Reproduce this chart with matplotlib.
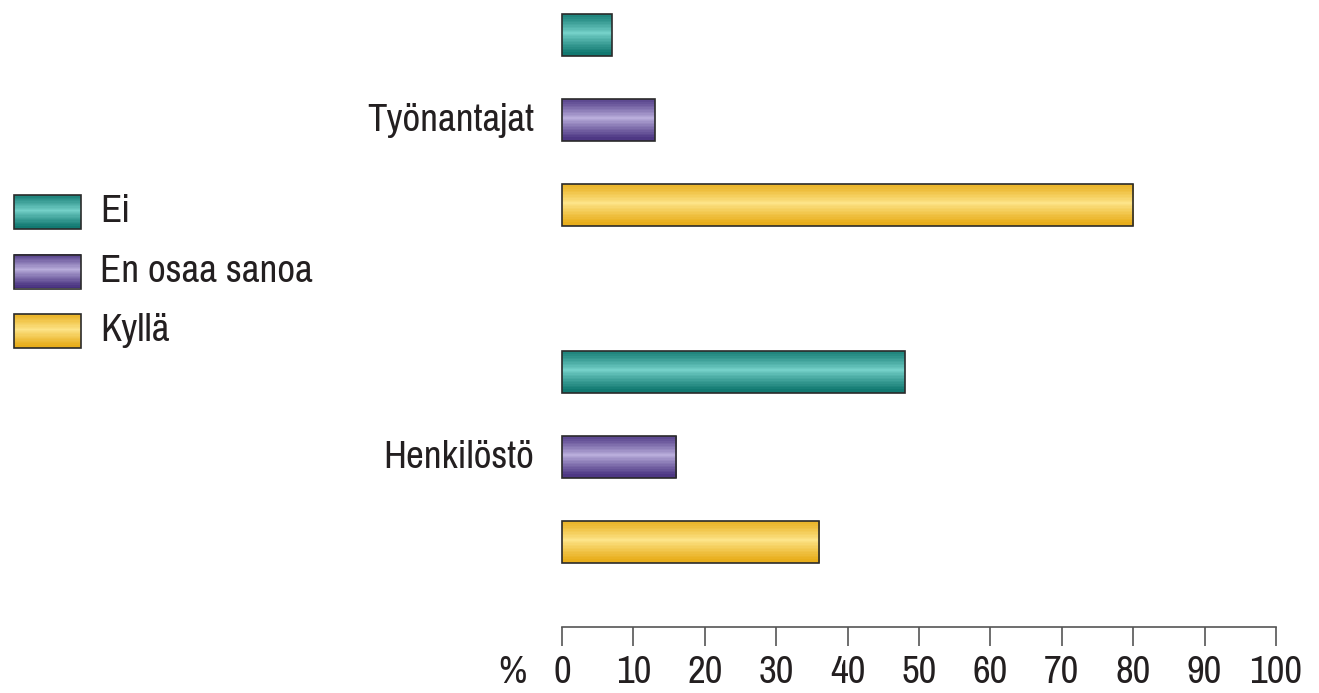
import matplotlib
matplotlib.use("Agg")
import matplotlib.pyplot as plt
import numpy as np
from matplotlib.colors import LinearSegmentedColormap
from matplotlib.patches import Rectangle
from matplotlib import font_manager as fm

GROUPS = ["Työnantajat", "Henkilöstö"]
SERIES = ["Ei", "En osaa sanoa", "Kyllä"]
VALUES = {
    "Työnantajat": [7, 13, 80],
    "Henkilöstö": [48, 16, 36],
}
TICKS = [0, 10, 20, 30, 40, 50, 60, 70, 80, 90, 100]

# dark edge / light centre for the striped cylinder look
SHADES = {
    "Ei": ("#0b736b", "#74d0c8"),
    "En osaa sanoa": ("#46307e", "#b9addb"),
    "Kyllä": ("#e7aa14", "#fde488"),
}

names = sorted({f.name for f in fm.fontManager.ttflist})
narrow = [n for n in names if "Narrow" in n or "Condensed" in n]
plt.rcParams["font.family"] = narrow[:1] + ["DejaVu Sans"]
if not narrow:
    plt.rcParams["font.stretch"] = "condensed"
FS = 28
W, H = 1319, 693


def stripes(name, nband=14):
    dark, light = SHADES[name]
    cm = LinearSegmentedColormap.from_list(name, [dark, light])
    t = np.linspace(0, 1, 200)
    prof = np.clip(1 - np.abs(t - 0.45) / 0.55, 0, 1) ** 1.2
    prof = np.round(prof * nband) / nband
    return cm(prof)[:, None, :]


def gbar(ax, x0, y0, w, h, name):
    # y0 is top in data coords (y axis inverted)
    ax.imshow(stripes(name), extent=(x0, x0 + w, y0 + h, y0), aspect="auto",
              interpolation="nearest", zorder=2, clip_on=False)
    ax.add_patch(Rectangle((x0, y0), w, h, fill=False, ec="#2b2b2b", lw=1.2,
                           zorder=3, clip_on=False))


fig = plt.figure(figsize=(W / 100, H / 100), dpi=100)
ax = fig.add_axes([562 / W, 66 / H, 714 / W, 627 / H])

step = 85.0
gap = 337.0 / step
bh = 42 / step
for g, grp in enumerate(GROUPS):
    for s, name in enumerate(SERIES):
        yc = g * gap + s
        gbar(ax, 0, yc - bh / 2, VALUES[grp][s], bh, name)
    ax.text(-3.9, g * gap + 1, grp, ha="right", va="center", fontsize=FS, color="#231f20")

ax.set_xlim(0, 100)
ax.set_ylim((627 - 35) / step, -35 / step)
ax.set_yticks([])
for sp in ["top", "left", "right"]:
    ax.spines[sp].set_visible(False)
ax.spines["bottom"].set_color("#555555")
ax.spines["bottom"].set_linewidth(1.2)
ax.set_xticks(TICKS)
ax.set_xticklabels([str(t) for t in TICKS], fontsize=FS, color="#231f20")
ax.tick_params(axis="x", direction="out", length=14, width=1.2, color="#555555", pad=6)
ax.annotate("%", (-7, 0), xycoords=("data", "axes fraction"), xytext=(0, -20),
            textcoords="offset points", ha="center", va="top", fontsize=FS,
            color="#231f20", annotation_clip=False)

# legend
lax = fig.add_axes([0, 0, 1, 1])
lax.set_xlim(0, W)
lax.set_ylim(H, 0)
lax.axis("off")
for i, name in enumerate(SERIES):
    yt = 195 + i * 59.5
    gbar(lax, 14, yt, 67, 34, name)
    lax.text(100, yt + 17, name, ha="left", va="center", fontsize=FS, color="#231f20")

fig.savefig("out.png", dpi=100)
